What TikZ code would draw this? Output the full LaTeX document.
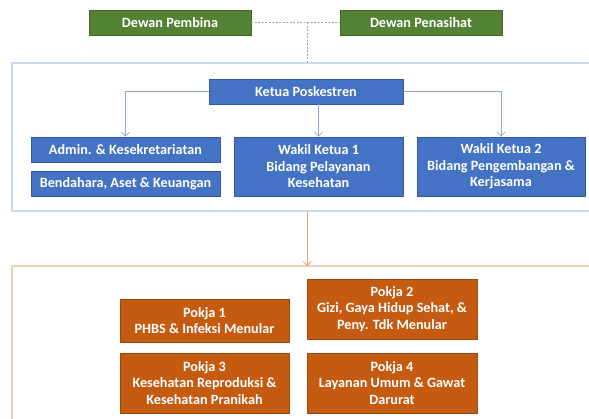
\documentclass[tikz,border=0pt]{standalone}
\usepackage{fontspec}
\setmainfont{Carlito}
\usetikzlibrary{arrows.meta}
\definecolor{dewan}{HTML}{548235}
\definecolor{pengurus}{HTML}{4472C4}
\definecolor{pokja}{HTML}{C55A11}
\definecolor{bluefrm}{HTML}{C9D9EE}
\definecolor{orangefrm}{HTML}{EBD2B8}
\definecolor{bluearr}{HTML}{8EA9C9}
\definecolor{orangearr}{HTML}{E8A46E}

\begin{document}
\begin{tikzpicture}[x=1pt, y=-1pt,
  box/.style={draw=#1!80!black, fill=#1, text=white, font=\bfseries\fontsize{14.2}{16.5}\selectfont,
    align=center, inner sep=0pt, line width=0.6pt},
  tip/.style={-{Straight Barb[length=4pt, width=8pt]}}]
  \useasboundingbox (0,0) rectangle (589,419);
  % panels
  \draw [bluefrm, line width=1.2pt] (600,63) -- (12,63) -- (12,211) -- (600,211);
  \draw [orangefrm, line width=1.2pt] (600,266) -- (12,266) -- (12,430);
  \node at (170,22.5) (pembina) [box=dewan, minimum width=162, minimum height=25] {Dewan Pembina};
  \node at (421,22.5) (penasihat) [box=dewan, minimum width=162, minimum height=25] {Dewan Penasihat};
  \node at (306,91.5) (ketua) [box=pengurus, minimum width=194, minimum height=25] {Ketua Poskestren};
  \node at (125.5,149.5) (admin) [box=pengurus, minimum width=189, minimum height=25] {Admin. \& Kesekretariatan};
  \node at (125.5,183.5) (bendahara) [box=pengurus, minimum width=189, minimum height=25] {Bendahara, Aset \& Keuangan};
  \node at (318.5,166.5) (wakil1) [box=pengurus, minimum width=169, minimum height=59] {Wakil Ketua 1\\Bidang Pelayanan\\Kesehatan};
  \node at (501,166.5) (wakil2) [box=pengurus, minimum width=168, minimum height=59] {Wakil Ketua 2\\Bidang Pengembangan \&\\Kerjasama};
  \node at (204.5,320.5) (pokja1) [box=pokja, minimum width=169, minimum height=43] {Pokja 1\\PHBS \& Infeksi Menular};
  \node at (392,309) (pokja2) [box=pokja, minimum width=170, minimum height=60] {Pokja 2\\Gizi, Gaya Hidup Sehat, \&\\Peny. Tdk Menular};
  \node at (204.5,383) (pokja3) [box=pokja, minimum width=169, minimum height=60] {Pokja 3\\Kesehatan Reproduksi \&\\Kesehatan Pranikah};
  \node at (392,383) (pokja4) [box=pokja, minimum width=170, minimum height=60] {Pokja 4\\Layanan Umum \& Gawat\\Darurat};
  \coordinate (tie) at (307,22.5);
  \coordinate (bluetop) at (307,63);
  \coordinate (bluebot) at (307,211);
  \coordinate (orangetop) at (307,266);
  \draw [gray!70, dash pattern=on 2pt off 1.5pt, line width=0.8pt] (pembina.east) -- (penasihat.west);
  \draw [gray!70, dash pattern=on 2pt off 1.5pt, line width=0.8pt] (tie) -- (bluetop);
  \draw [bluearr, line width=0.8pt, tip] (ketua.west) -| (admin.north);
  \draw [bluearr, line width=0.8pt, tip] (wakil1.north |- ketua.south) -- (wakil1.north);
  \draw [bluearr, line width=0.8pt, tip] (ketua.east) -| (wakil2.north);
  \draw [orangearr, line width=0.8pt, tip] (bluebot) -- (orangetop);
\end{tikzpicture}
\end{document}
